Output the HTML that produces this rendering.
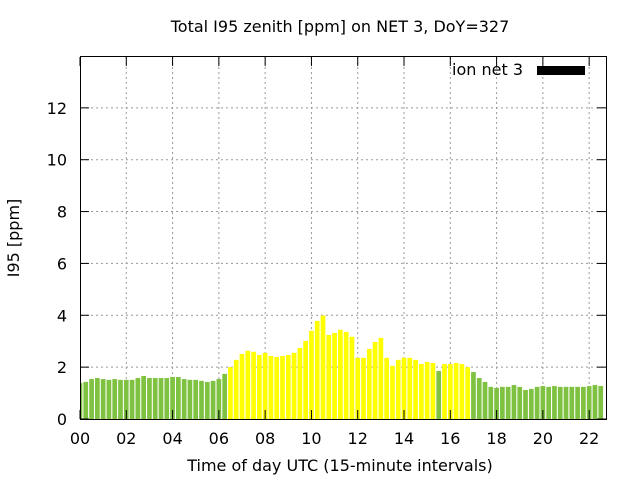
<!DOCTYPE html>
<html><head><meta charset="utf-8"><style>
body{margin:0;background:#fff;width:640px;height:480px;overflow:hidden}
text{font-family:"DejaVu Sans","Liberation Sans",sans-serif;fill:#000}
</style></head><body>
<svg id="s" width="640" height="480" xmlns="http://www.w3.org/2000/svg">
<rect width="640" height="480" fill="#fff"/>
<g id="grid" stroke="#999" stroke-width="1" stroke-dasharray="2,3"></g>
<g id="bars"></g>
<rect x="80.5" y="56.5" width="526" height="363" fill="none" stroke="#000"/>
<g id="ticks" stroke="#000"></g>
<g id="labels" font-size="16"></g>
<text x="340" y="32" font-size="16" text-anchor="middle">Total I95 zenith [ppm] on NET 3, DoY=327</text>
<text x="340" y="471" font-size="16" text-anchor="middle">Time of day UTC (15-minute intervals)</text>
<text transform="translate(19,238) rotate(-90)" font-size="16" text-anchor="middle">I95 [ppm]</text>
<text x="523" y="75" font-size="16" text-anchor="end">ion net 3</text>
<rect x="537" y="66" width="48" height="9" fill="#000"/>
</svg>
<script>
var v=[1.39,1.43,1.54,1.58,1.54,1.51,1.54,1.51,1.51,1.51,1.58,1.66,1.58,1.58,1.58,1.58,1.62,1.62,1.54,1.51,1.51,1.47,1.43,1.47,1.54,1.74,
2.0,2.28,2.51,2.63,2.59,2.47,2.55,2.43,2.39,2.43,2.47,2.55,2.74,3.01,3.4,3.78,3.99,3.24,3.32,3.44,3.36,3.17,2.36,2.36,2.7,2.97,3.13,2.36,2.05,2.28,2.36,2.36,2.28,2.12,2.2,2.16,
1.85,2.12,2.12,2.16,2.12,2.0,1.81,1.58,1.43,1.24,1.2,1.24,1.24,1.31,1.24,1.12,1.16,1.24,1.27,1.24,1.27,1.24,1.24,1.24,1.24,1.24,1.27,1.31,1.27];
var ns="http://www.w3.org/2000/svg";
function el(p,t,a,txt){var e=document.createElementNS(ns,t);for(var k in a)e.setAttribute(k,a[k]);if(txt)e.textContent=txt;document.getElementById(p).appendChild(e);}
var X0=80,S=5.786,Y0=419,K=25.93;
for(var i=0;i<v.length;i++){var y=(i>=26&&i<=61)||(i>=63&&i<=67);
var x=X0+i*S-2.35,w=4.7;if(x<81){w-=81-x;x=81;}if(x+w>606)w=606-x;if(w<=0)continue;
el("bars","rect",{x:x,y:Y0-v[i]*K,width:w,height:v[i]*K,fill:y?"#ffff00":"#7fc241"});}
for(var h=0;h<=22;h+=2){var x=X0+h*4*S;
if(h>0)el("grid","line",{x1:x,y1:57,x2:x,y2:419});
el("ticks","line",{x1:x,y1:419,x2:x,y2:410});el("ticks","line",{x1:x,y1:57,x2:x,y2:66});
el("labels","text",{x:x,y:444,"text-anchor":"middle"},(h<10?"0":"")+h);}
for(var t=0;t<=12;t+=2){var y=Y0-t*K;
if(t>0)el("grid","line",{x1:81,y1:y,x2:606,y2:y});
el("ticks","line",{x1:80,y1:y,x2:89,y2:y});el("ticks","line",{x1:606,y1:y,x2:597,y2:y});
el("labels","text",{x:67,y:y+6,"text-anchor":"end"},""+t);}
</script>
</body></html>
